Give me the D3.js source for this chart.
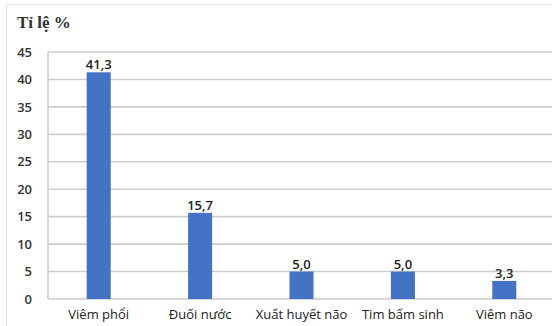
<!DOCTYPE html>
<html>
<head>
<meta charset="utf-8">
<script src="https://cdn.jsdelivr.net/npm/d3@7"></script>
<style>
  html, body { margin: 0; padding: 0; background: #fff; }
  svg { display: block; }
</style>
</head>
<body>
<svg id="chart" width="552" height="326"></svg>
<script>
// Tỉ lệ (%) theo nguyên nhân
const categories = ["Viêm phổi", "Đuối nước", "Xuất huyết não", "Tim bẩm sinh", "Viêm não"];
const values = [41.3, 15.7, 5.0, 5.0, 3.3];
const valueLabels = ["41,3", "15,7", "5,0", "5,0", "3,3"];
const yTicks = [0, 5, 10, 15, 20, 25, 30, 35, 40, 45];
const titleText = "Tỉ lệ %";

const svg = d3.select("#chart");
const W = 552, H = 326;

// Outer frame of the chart area
svg.append("rect").attr("x", 6.5).attr("y", 4.5).attr("width", W).attr("height", H)
  .attr("fill", "#fff").attr("stroke", "#e4e4e4").attr("stroke-width", 1);

const plotLeft = 48, plotRight = 555, plotTop = 52, plotBottom = 299;

const x = d3.scaleBand().domain(categories).range([plotLeft, plotRight]).paddingInner(0.763).paddingOuter(0.3815);
const y = d3.scaleLinear().domain([0, 45]).range([plotBottom, plotTop]);

// Horizontal gridlines
svg.append("g").selectAll("line").data(yTicks).join("line")
  .attr("x1", plotLeft).attr("x2", plotRight)
  .attr("y1", d => y(d)).attr("y2", d => y(d))
  .attr("stroke", "#cdcdcd").attr("stroke-width", 1.6);

// Left axis line
svg.append("line").attr("x1", plotLeft).attr("x2", plotLeft).attr("y1", plotTop).attr("y2", plotBottom)
  .attr("stroke", "#cdcdcd").attr("stroke-width", 1.6);

// Y axis tick labels
const yAxis = d3.axisLeft(y).tickValues(yTicks).tickSize(0).tickPadding(16).tickFormat(d3.format("d"));
const gy = svg.append("g").attr("transform", `translate(${plotLeft},0)`).call(yAxis);
gy.select(".domain").remove();
gy.selectAll("text").attr("font-family", "'Open Sans', sans-serif").attr("font-size", 13)
  .attr("font-weight", 600).attr("fill", "#333");

// Bars
svg.append("g").selectAll("rect").data(values).join("rect")
  .attr("x", (d, i) => x(categories[i]))
  .attr("width", x.bandwidth())
  .attr("y", d => y(d))
  .attr("height", d => y(0) - y(d))
  .attr("fill", "#4472c4");

// Value labels
svg.append("g").selectAll("text").data(values).join("text")
  .attr("x", (d, i) => x(categories[i]) + x.bandwidth() / 2)
  .attr("y", d => y(d) - 3)
  .attr("text-anchor", "middle")
  .attr("font-family", "'Open Sans', sans-serif").attr("font-size", 13)
  .attr("font-weight", 600).attr("fill", "#222")
  .text((d, i) => valueLabels[i]);

// Category labels
const xAxis = d3.axisBottom(x).tickSize(0).tickPadding(11);
const gx = svg.append("g").attr("transform", `translate(0,${plotBottom})`).call(xAxis);
gx.select(".domain").remove();
gx.selectAll("text").attr("font-family", "'Open Sans', sans-serif").attr("font-size", 13)
  .attr("fill", "#222");

// Title
svg.append("text").attr("x", 17).attr("y", 28)
  .attr("font-family", "'Liberation Serif', serif").attr("font-weight", "bold")
  .attr("font-size", 17).attr("fill", "#333").text(titleText);
</script>
</body>
</html>
